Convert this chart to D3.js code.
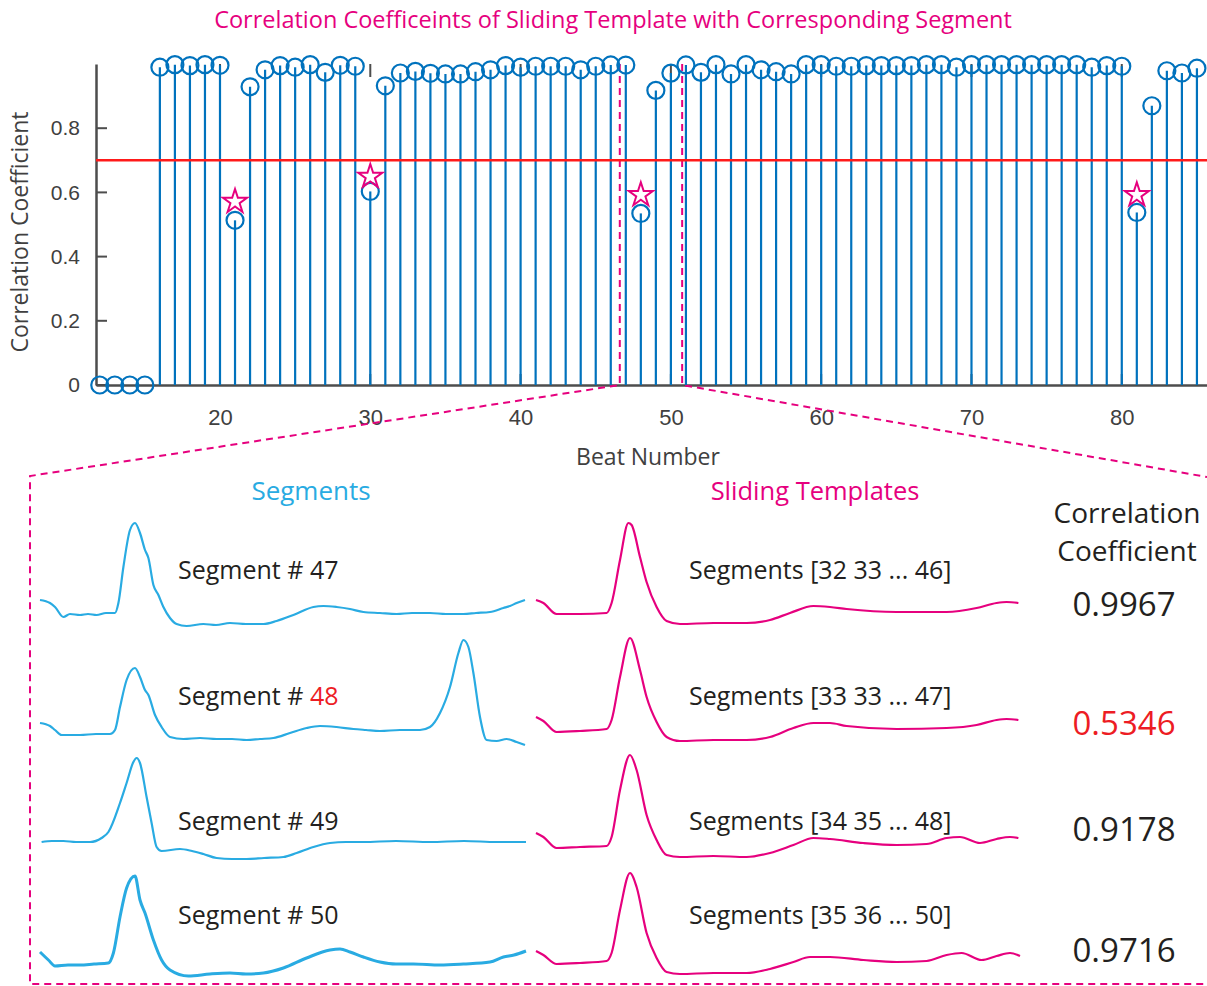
<!DOCTYPE html>
<html>
<head>
<meta charset="utf-8">
<script src="https://cdn.jsdelivr.net/npm/d3@7"></script>
<style>
  body { margin: 0; background: #fff; }
  svg { display: block; font-family: "Open Sans", "Noto Sans", sans-serif; }
</style>
</head>
<body>
<div id="divChart"></div>
<script>
// beat numbers and correlation coefficient of each beat
var beats = d3.range(12, 86);
var coeffs = [
    0, 0, 0, 0,
    0.99, 0.998, 0.995, 0.998, 0.996,
    0.513,
    0.929, 0.982, 0.995, 0.99, 0.998, 0.974, 0.996, 0.993,
    0.603,
    0.932, 0.972, 0.977, 0.971, 0.969, 0.969, 0.976, 0.982, 0.995, 0.99, 0.993, 0.993, 0.993, 0.982, 0.993, 0.997, 0.9967,
    0.5346, 0.9178, 0.9716,
    0.997, 0.974, 0.998, 0.969, 0.998, 0.982, 0.976, 0.969, 0.998, 0.998, 0.993, 0.993, 0.995, 0.995, 0.995, 0.995, 0.998, 0.998,
    0.99, 0.998, 0.998, 0.998, 0.998, 0.998, 0.998, 0.998, 0.998, 0.99, 0.995, 0.993,
    0.5375, 0.87, 0.979, 0.972, 0.987
];
// star markers (flagged beats)
var starBeats = [21, 30, 48, 81];
var starValues = [0.571, 0.649, 0.592, 0.592];
var threshold = 0.7;
var xTicks = [20, 30, 40, 50, 60, 70, 80];
var yTicks = [0, 0.2, 0.4, 0.6, 0.8];
var zoomRange = [46.6, 50.75];

// lower panel
var segLabels = ["47", "48", "49", "50"];
var tmplLabels = ["Segments [32 33 ... 46]", "Segments [33 33 ... 47]", "Segments [34 35 ... 48]", "Segments [35 36 ... 50]"];
var rowCoeffs = ["0.9967", "0.5346", "0.9178", "0.9716"];
var badRow = 1;

// waveforms: [sample, amplitude]
var segWaves = [
  [[0,0.15],[5,0.12],[7.5,0.08],[11.7,-0.02],[15,0.01],[20,0],[24,0.01],[28.3,0.0],[33,0.02],[37.5,0.02],[39.2,0.12],[41.7,0.48],[45,0.85],[47.5,0.92],[50,0.82],[52.5,0.65],[54.2,0.57],[56.7,0.30],[59.2,0.20],[61.7,0.08],[65,-0.03],[68.3,-0.09],[73.3,-0.11],[81.7,-0.09],[88,-0.1],[95,-0.08],[103,-0.09],[111.7,-0.09],[118.3,-0.06],[126.7,0.0],[136.7,0.08],[141.7,0.09],[148.3,0.08],[155,0.06],[161.7,0.03],[170,0.02],[178.3,0.01],[186,0.02],[195,0.02],[203,0.01],[211.7,0.01],[218,0.02],[225,0.03],[231.7,0.07],[235,0.09],[238.3,0.12],[242.5,0.15]],
  [[0,0.12],[5,0.09],[7.5,0.05],[10.8,0.0],[20,0.0],[28,0.01],[35,0.01],[37.5,0.05],[40,0.28],[43.3,0.55],[47.5,0.67],[50,0.58],[52.5,0.45],[54.2,0.40],[57.5,0.20],[60.8,0.08],[65,-0.02],[71.7,-0.04],[80,-0.03],[88.3,-0.04],[96,-0.04],[103.3,-0.05],[110,-0.04],[116.7,-0.03],[125,0.02],[133.3,0.07],[140,0.09],[148.3,0.08],[156.7,0.06],[163,0.05],[170,0.04],[180,0.05],[190,0.05],[195,0.08],[200,0.22],[205,0.48],[209.2,0.82],[211.7,0.95],[214.2,0.88],[216.7,0.62],[220,0.18],[223.3,-0.05],[228.3,-0.06],[233.3,-0.04],[238.3,-0.07],[242.5,-0.10]],
  [[0.8,0.0],[6,0.01],[11.7,0.01],[18,0.0],[25,0.0],[30.8,0.04],[34.2,0.10],[40,0.39],[43.3,0.59],[46.7,0.80],[48.3,0.84],[50,0.79],[53.3,0.45],[55.8,0.19],[58.3,-0.05],[60.8,-0.09],[70,-0.07],[76,-0.09],[81.7,-0.12],[88.3,-0.16],[96,-0.17],[103.3,-0.17],[112,-0.16],[121.7,-0.15],[128.3,-0.11],[136.7,-0.05],[145,-0.01],[153,0.0],[161.7,0.0],[178,0.01],[195,0.0],[212,0.01],[228.3,0.0],[243,0.0]],
  [[0,0.13],[4.2,0.05],[7.5,-0.01],[14,0.0],[20,0.0],[27,0.01],[34.2,0.02],[36.7,0.12],[40,0.48],[43.3,0.77],[47.5,0.89],[50,0.65],[52.5,0.52],[56.7,0.25],[60.8,0.05],[65,-0.05],[74.2,-0.11],[85,-0.09],[95,-0.08],[103,-0.09],[111.7,-0.08],[121.7,-0.03],[133.3,0.07],[145,0.15],[150,0.16],[155,0.13],[161.7,0.08],[170,0.03],[178,0.01],[186.7,0.01],[200,0.0],[211.7,0.01],[225,0.03],[231.7,0.08],[237,0.1],[243,0.14]]
];
var tmplWaves = [
  [[0,0.15],[3.7,0.12],[10.3,0.01],[22,0.01],[35.3,0.02],[37.8,0.12],[42,0.55],[46.2,0.92],[47.8,0.90],[52,0.58],[55.3,0.33],[60.3,0.08],[65.3,-0.06],[72,-0.09],[88.7,-0.08],[105.3,-0.08],[117,-0.05],[127,0.02],[138.7,0.09],[147,0.08],[155.3,0.06],[180.3,0.03],[205.3,0.03],[220.3,0.07],[230.3,0.12],[235.3,0.13],[241.2,0.12]],
  [[0,0.18],[3.7,0.14],[10.3,0.03],[22,0.04],[35.3,0.06],[37.8,0.15],[42,0.58],[47,0.97],[52,0.65],[55.3,0.38],[60.3,0.13],[65.3,-0.02],[72,-0.06],[88.7,-0.05],[105.3,-0.05],[117,-0.02],[128.7,0.07],[138.7,0.12],[147,0.12],[155.3,0.09],[180.3,0.06],[205.3,0.07],[220.3,0.10],[230.3,0.15],[235.3,0.16],[241.2,0.15]],
  [[0,0.09],[3.7,0.05],[10.3,-0.06],[22,-0.05],[35.3,-0.04],[37.8,0.05],[42,0.52],[47,0.87],[50.3,0.72],[55.3,0.27],[60.3,0.02],[65.3,-0.13],[72,-0.15],[88.7,-0.14],[105.3,-0.15],[117,-0.11],[128.7,-0.03],[138.7,0.04],[147,0.03],[163.7,-0.01],[180.3,-0.03],[195.3,-0.02],[205.3,0.04],[212,0.05],[222,-0.01],[230.3,0.03],[237,0.05],[241.2,0.04]],
  [[0,0.14],[3.7,0.10],[10.3,0.01],[22,0.02],[35.3,0.04],[37.8,0.12],[42,0.55],[47,0.92],[50.3,0.78],[55.3,0.32],[60.3,0.07],[65.3,-0.07],[72,-0.09],[88.7,-0.08],[105.3,-0.08],[117,-0.04],[128.7,0.03],[137,0.08],[147,0.08],[163.7,0.05],[180.3,0.03],[195.3,0.04],[205.3,0.10],[212.8,0.12],[222.8,0.05],[230.3,0.09],[237,0.12],[242,0.09]]
];

var width = 1207, height = 986;
var stemColor = "#0072bd", axisColor = "#4d4d4d", magenta = "#e6007e", blue = "#29abe2", ink = "#231f20";

var svg = d3.select("#divChart").append("svg")
    .attr("width", width)
    .attr("height", height);

// ---------- stem plot ----------
var x = d3.scaleLinear().domain([11.75, 85.67]).range([96, 1207]);
var y = d3.scaleLinear().domain([0, 1]).range([385, 64]);

svg.append("text")
    .attr("x", 613).attr("y", 28)
    .attr("text-anchor", "middle")
    .style("font-size", "23.5px")
    .style("fill", magenta)
    .text("Correlation Coefficeints of Sliding Template with Corresponding Segment");

// axes
var xAxis = d3.axisBottom(x).tickValues(xTicks).tickSize(0).tickPadding(24);
var gx = svg.append("g").attr("transform", "translate(0,385)").call(xAxis);
gx.select(".domain").attr("stroke", axisColor).attr("stroke-width", 2.5);
gx.selectAll("text").style("font-size", "22px").style("fill", "#404040");

var yAxis = d3.axisLeft(y).tickValues(yTicks).tickSize(0).tickPadding(16)
    .tickFormat(function(d){ return d === 0 ? "0" : d3.format(".1f")(d); });
var gy = svg.append("g").attr("transform", "translate(96,0)").call(yAxis);
gy.select(".domain").attr("stroke", axisColor).attr("stroke-width", 2.5);
gy.selectAll("text").style("font-size", "21px").style("fill", "#404040");

// inward ticks (bottom, top and left)
svg.append("g").selectAll("line").data(xTicks).enter().append("line")
    .attr("x1", d => x(d)).attr("x2", d => x(d))
    .attr("y1", 385).attr("y2", 374)
    .attr("stroke", axisColor).attr("stroke-width", 2);
svg.append("g").selectAll("line").data(xTicks).enter().append("line")
    .attr("x1", d => x(d)).attr("x2", d => x(d))
    .attr("y1", 64).attr("y2", 77)
    .attr("stroke", axisColor).attr("stroke-width", 2);
svg.append("g").selectAll("line").data(yTicks).enter().append("line")
    .attr("x1", 96).attr("x2", 107)
    .attr("y1", d => y(d)).attr("y2", d => y(d))
    .attr("stroke", axisColor).attr("stroke-width", 2);

svg.append("text")
    .attr("transform", "translate(28,232) rotate(-90)")
    .attr("text-anchor", "middle")
    .style("font-size", "23px").style("fill", "#404040")
    .text("Correlation Coefficient");
svg.append("text")
    .attr("x", 648).attr("y", 465)
    .attr("text-anchor", "middle")
    .style("font-size", "23px").style("fill", "#404040")
    .text("Beat Number");

// zoom bracket (behind stems)
var bracket = svg.append("g")
    .attr("fill", "none").attr("stroke", magenta)
    .attr("stroke-width", 2).attr("stroke-dasharray", "7,5");
bracket.append("path")
    .attr("d", "M" + x(zoomRange[0]) + "," + y(1) + "V" + y(0) + "L30,476V984H1207");
bracket.append("path")
    .attr("d", "M" + x(zoomRange[1]) + "," + y(1) + "V" + y(0) + "L1207,477");

var stems = svg.append("g");
stems.selectAll("line").data(beats).enter().append("line")
    .attr("x1", d => x(d)).attr("x2", d => x(d))
    .attr("y1", y(0)).attr("y2", (d, i) => y(coeffs[i]))
    .attr("stroke", stemColor).attr("stroke-width", 2.2);
stems.selectAll("circle").data(beats).enter().append("circle")
    .attr("cx", d => x(d)).attr("cy", (d, i) => y(coeffs[i]))
    .attr("r", 8.5)
    .attr("fill", "none")
    .attr("stroke", stemColor).attr("stroke-width", 2.2);

// threshold line
svg.append("line")
    .attr("x1", 96).attr("x2", 1207)
    .attr("y1", y(threshold)).attr("y2", y(threshold))
    .attr("stroke", "#ff1a1a").attr("stroke-width", 2.5);

// stars
var star = d3.symbol().type(d3.symbolStar).size(180);
svg.append("g").selectAll("path").data(starBeats).enter().append("path")
    .attr("d", star)
    .attr("transform", (d, i) => "translate(" + x(d) + "," + y(starValues[i]) + ")")
    .attr("fill", "none")
    .attr("stroke", magenta).attr("stroke-width", 2);

// ---------- lower panel ----------
svg.append("text").attr("x", 311).attr("y", 500).attr("text-anchor", "middle")
    .style("font-size", "26px").style("fill", blue).text("Segments");
svg.append("text").attr("x", 815).attr("y", 500).attr("text-anchor", "middle")
    .style("font-size", "25.5px").style("fill", magenta).text("Sliding Templates");
svg.append("text").attr("x", 1127).attr("y", 523).attr("text-anchor", "middle")
    .style("font-size", "28px").style("fill", ink).text("Correlation");
svg.append("text").attr("x", 1127).attr("y", 561).attr("text-anchor", "middle")
    .style("font-size", "28px").style("fill", ink).text("Coefficient");

var rowBase = [615, 735, 842, 965];
var labelY = [579, 705, 830, 924];
var coeffY = [616, 735, 841, 962];

var xs = d3.scaleLinear().domain([0, 242.5]).range([40, 525]);
var xt = d3.scaleLinear().domain([0, 241]).range([536, 1018]);

rowBase.forEach(function(b, r) {
    var yr = d3.scaleLinear().domain([-0.3, 1]).range([b + 30, b - 100]);
    var lineS = d3.line().x(d => xs(d[0])).y(d => yr(d[1])).curve(d3.curveMonotoneX);
    var lineT = d3.line().x(d => xt(d[0])).y(d => yr(d[1])).curve(d3.curveMonotoneX);

    svg.append("path").attr("d", lineS(segWaves[r]))
        .attr("fill", "none").attr("stroke", blue)
        .attr("stroke-width", r === 3 ? 3 : 2.2).attr("stroke-linejoin", "round");
    svg.append("path").attr("d", lineT(tmplWaves[r]))
        .attr("fill", "none").attr("stroke", magenta)
        .attr("stroke-width", 2.2).attr("stroke-linejoin", "round");

    var t = svg.append("text").attr("x", 178).attr("y", labelY[r])
        .style("font-size", "25px").style("fill", ink);
    t.append("tspan").text("Segment # ");
    t.append("tspan").style("fill", r === badRow ? "#ed1c24" : ink).text(segLabels[r]);

    svg.append("text").attr("x", 689).attr("y", labelY[r])
        .style("font-size", "25px").style("fill", ink).text(tmplLabels[r]);

    svg.append("text").attr("x", 1124).attr("y", coeffY[r]).attr("text-anchor", "middle")
        .style("font-size", "33px").style("fill", r === badRow ? "#ed1c24" : ink)
        .text(rowCoeffs[r]);
});
</script>
</body>
</html>
